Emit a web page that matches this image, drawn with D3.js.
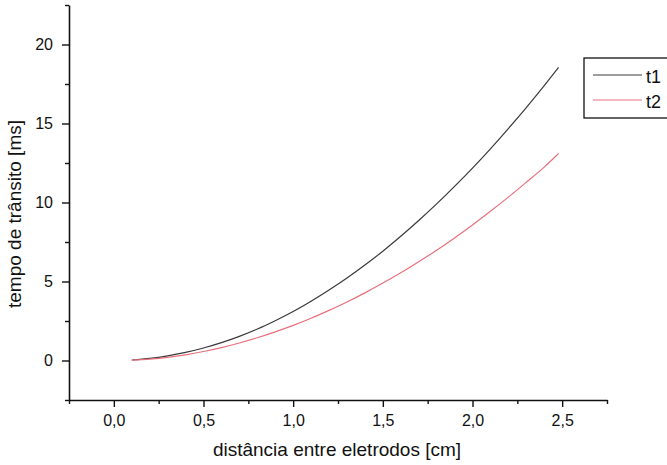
<!DOCTYPE html>
<html>
<head>
<meta charset="utf-8">
<script src="https://cdn.jsdelivr.net/npm/d3@7"></script>
<style>
  body { margin: 0; background: #fff; }
  svg { display: block; font-family: "Liberation Sans", Arial, sans-serif; }
  .tick text { font-size: 16px; fill: #111; }
</style>
</head>
<body>
<svg id="chart" width="667" height="465"></svg>
<script>
// distance between electrodes [cm]
const dist = [0.1, 0.2, 0.3, 0.4, 0.5, 0.6, 0.7, 0.8, 0.9, 1.0, 1.1, 1.2, 1.3,
  1.4, 1.5, 1.6, 1.7, 1.8, 1.9, 2.0, 2.1, 2.2, 2.3, 2.4, 2.48];
// transit times [ms]
const t1 = [0.03, 0.13, 0.29, 0.51, 0.79, 1.13, 1.53, 1.99, 2.52, 3.1, 3.75, 4.46, 5.22,
  6.04, 6.92, 7.86, 8.86, 9.91, 11.02, 12.18, 13.4, 14.68, 16.01, 17.4, 18.55];
const t2 = [0.02, 0.09, 0.2, 0.36, 0.57, 0.82, 1.11, 1.44, 1.81, 2.22, 2.67, 3.17, 3.7,
  4.28, 4.9, 5.55, 6.25, 6.98, 7.76, 8.58, 9.44, 10.34, 11.28, 12.24, 13.1];
const seriesNames = ['t1', 't2'];
const seriesColors = ['#3a3a3a', '#e8707c'];
const xTicks = [0, 0.5, 1.0, 1.5, 2.0, 2.5];
const yTicks = [0, 5, 10, 15, 20];

const svg = d3.select('#chart');
const x = d3.scaleLinear().domain([-0.25, 2.75]).range([69, 607]);
const y = d3.scaleLinear().domain([-2.5, 22.5]).range([400, 5]);

const fmt = d => d3.format('.1f')(d).replace('.', ',');

// minor ticks first, then major ticks on top
const xMinor = d3.range(-0.25, 2.76, 0.25).filter(v => Math.abs(v * 2 - Math.round(v * 2)) > 1e-6);
const yMinor = d3.range(-2.5, 22.6, 5);

svg.append('g').attr('transform', 'translate(0,400)')
  .call(d3.axisBottom(x).tickValues(xMinor).tickSize(4).tickFormat(''))
  .call(g => g.select('.domain').remove())
  .selectAll('line').attr('stroke', '#111').attr('stroke-width', 1.4);

svg.append('g').attr('transform', 'translate(69,0)')
  .call(d3.axisLeft(y).tickValues(yMinor).tickSize(4).tickFormat(''))
  .call(g => g.select('.domain').remove())
  .selectAll('line').attr('stroke', '#111').attr('stroke-width', 1.4);

const xAxis = svg.append('g').attr('transform', 'translate(0,400)')
  .call(d3.axisBottom(x).tickValues(xTicks).tickSize(7).tickSizeOuter(0).tickPadding(8).tickFormat(fmt));
const yAxis = svg.append('g').attr('transform', 'translate(69,0)')
  .call(d3.axisLeft(y).tickValues(yTicks).tickSize(7).tickSizeOuter(0).tickPadding(9));

[xAxis, yAxis].forEach(g => {
  g.select('.domain').attr('stroke', '#111').attr('stroke-width', 1.6);
  g.selectAll('.tick line').attr('stroke', '#111').attr('stroke-width', 1.4);
  g.selectAll('.tick text').attr('font-family', '"Liberation Sans", Arial, sans-serif');
});

// curves
const data = [t1, t2];
const line = d3.line().x((d, i) => x(dist[i])).y(d => y(d)).curve(d3.curveMonotoneX);
data.forEach((vals, k) => {
  svg.append('path')
    .datum(vals)
    .attr('d', line)
    .attr('fill', 'none')
    .attr('stroke', seriesColors[k])
    .attr('stroke-width', 1.2);
});

// axis titles
svg.append('text')
  .attr('x', 337).attr('y', 456)
  .attr('text-anchor', 'middle')
  .attr('font-size', 19).attr('fill', '#111')
  .text('distância entre eletrodos [cm]');

svg.append('text')
  .attr('transform', 'translate(21,214) rotate(-90)')
  .attr('text-anchor', 'middle')
  .attr('font-size', 19).attr('fill', '#111')
  .text('tempo de trânsito [ms]');

// legend
const legend = svg.append('g');
legend.append('rect')
  .attr('x', 584).attr('y', 58).attr('width', 100).attr('height', 60)
  .attr('fill', 'none').attr('stroke', '#111').attr('stroke-width', 1.3);
seriesNames.forEach((name, k) => {
  const ly = 75 + k * 25;
  legend.append('line')
    .attr('x1', 593).attr('x2', 642).attr('y1', ly).attr('y2', ly)
    .attr('stroke', seriesColors[k]).attr('stroke-width', 1);
  legend.append('text')
    .attr('x', 646).attr('y', ly + 8)
    .attr('font-size', 18).attr('fill', '#111')
    .text(name);
});
</script>
</body>
</html>
